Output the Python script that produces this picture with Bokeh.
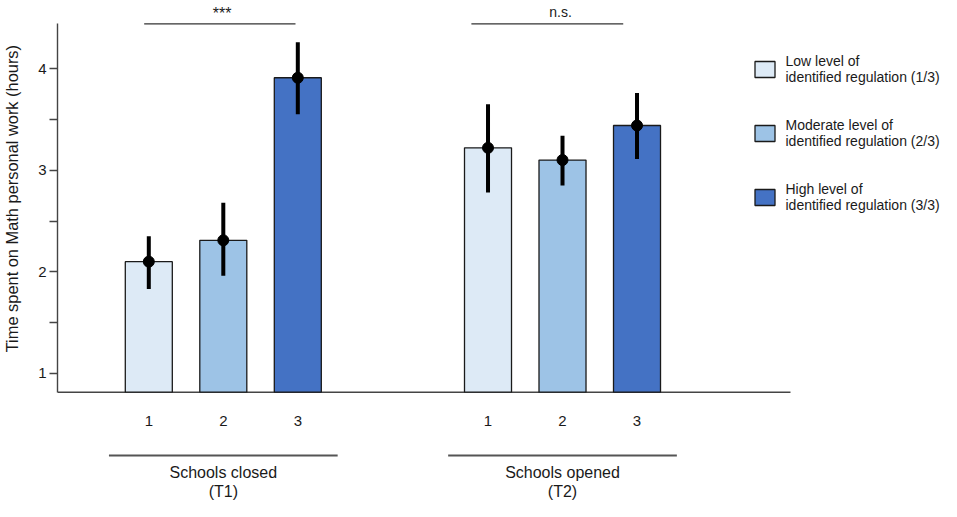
from bokeh.plotting import figure
from bokeh.models import (LinearAxis, FixedTicker, Legend, LegendItem, Range1d)
from bokeh.embed import file_html
from bokeh.resources import INLINE
from bokeh.core.properties import value

# ---------------- data ----------------
levels = ["1", "2", "3"]
legend_labels = ["Low level of\nidentified regulation (1/3)",
                 "Moderate level of\nidentified regulation (2/3)",
                 "High level of\nidentified regulation (3/3)"]
period_names = ["Schools closed", "Schools opened"]
period_codes = ["(T1)", "(T2)"]
significance = ["***", "n.s."]

means_t1 = [2.10, 2.31, 3.91]
lower_t1 = [1.83, 1.96, 3.55]
upper_t1 = [2.35, 2.68, 4.26]

means_t2 = [3.22, 3.10, 3.44]
lower_t2 = [2.78, 2.85, 3.11]
upper_t2 = [3.65, 3.34, 3.76]

y_ticks = [1, 2, 3, 4]
y_minor_ticks = [1.5, 2.5, 3.5]
y_label = "Time spent on Math personal work (hours)"

# ---------------- layout / style ----------------
colors = ["#DDEAF6", "#9DC3E6", "#4472C4"]
FONT = "Liberation Sans"
TXT = "#1a1a1a"
level_pos = [1, 2, 3]
group_offsets = [0.0, 4.553]
bar_width = 0.631
baseline = 0.815
axis_top = 4.444
base_x_end = 9.613
sig_line_x0 = [0.938, 5.330]
sig_line_x1 = [2.969, 7.368]
sig_text_x = [1.985, 6.526]
sig_text_y = [4.542, 4.562]
sig_font_size = ["16px", "14px"]
sig_line_y = 4.44
tick_label_y = 0.536
group_line_y = 0.192
group_half = 1.535
period_name_y = 0.0246
period_code_y = -0.1624
label_pad = "\u00a0" * 23   # shifts the centred axis title upward

p = figure(width=941, height=501,
           x_range=Range1d(-0.2255, 11.640), y_range=Range1d(-0.2608, 4.6703),
           x_axis_location=None, y_axis_location=None,
           toolbar_location=None, output_backend="svg",
           min_border_left=57, min_border_right=0,
           min_border_top=0, min_border_bottom=0)
p.outline_line_color = None
p.xgrid.visible = False
p.ygrid.visible = False
p.background_fill_color = "white"
p.border_fill_color = "white"

# y axis
yaxis = LinearAxis(ticker=FixedTicker(ticks=y_ticks, minor_ticks=y_minor_ticks),
                   bounds=(baseline, axis_top), axis_label=label_pad + y_label)
yaxis.axis_line_color = "#444444"
yaxis.axis_line_width = 1.4
yaxis.major_tick_line_color = "#444444"
yaxis.minor_tick_line_color = "#444444"
yaxis.major_tick_line_width = 1.4
yaxis.minor_tick_line_width = 1.4
yaxis.major_tick_out = 8
yaxis.major_tick_in = 0
yaxis.minor_tick_out = 8
yaxis.minor_tick_in = 0
yaxis.major_label_standoff = 3
yaxis.major_label_text_font = FONT
yaxis.major_label_text_font_size = "15px"
yaxis.major_label_text_color = TXT
yaxis.axis_label_text_font = FONT
yaxis.axis_label_text_font_size = "16.4px"
yaxis.axis_label_text_font_style = "normal"
yaxis.axis_label_text_color = TXT
yaxis.axis_label_standoff = 14
p.add_layout(yaxis, "left")

# baseline (x axis line)
p.segment(x0=[p.x_range.start], y0=[baseline], x1=[base_x_end], y1=[baseline],
          line_color="#444444", line_width=1.4)

# bars, one renderer per level
groups_means = [means_t1, means_t2]
groups_low = [lower_t1, lower_t2]
groups_up = [upper_t1, upper_t2]
bar_renderers = []
for i in range(3):
    xs = [level_pos[i] + off for off in group_offsets]
    tops = [gm[i] for gm in groups_means]
    r = p.vbar(x=xs, top=tops, bottom=baseline, width=bar_width,
               fill_color=colors[i], line_color="#1a1a1a", line_width=1.3)
    bar_renderers.append(r)

# error bars and points
ex, elo, eup, em = [], [], [], []
for g, off in enumerate(group_offsets):
    for i in range(3):
        ex.append(level_pos[i] + off)
        elo.append(groups_low[g][i])
        eup.append(groups_up[g][i])
        em.append(groups_means[g][i])
p.segment(x0=ex, y0=elo, x1=ex, y1=eup, line_color="black", line_width=4)
p.scatter(x=ex, y=em, size=11, fill_color="black", line_color="black")

# level tick labels below baseline
p.text(x=ex, y=[tick_label_y] * len(ex), text=levels * len(group_offsets),
       text_font=value(FONT), text_font_size=value("15px"), text_color=TXT,
       text_align="center", text_baseline="middle")

# group labels with line above
gcent = [level_pos[1] + off for off in group_offsets]
p.segment(x0=[c - group_half for c in gcent], y0=[group_line_y] * 2,
          x1=[c + group_half for c in gcent], y1=[group_line_y] * 2,
          line_color="#555555", line_width=2)
p.text(x=gcent, y=[period_name_y] * 2, text=period_names,
       text_font=value(FONT), text_font_size=value("16px"), text_color=TXT,
       text_align="center", text_baseline="middle")
p.text(x=gcent, y=[period_code_y] * 2, text=period_codes,
       text_font=value(FONT), text_font_size=value("16px"), text_color=TXT,
       text_align="center", text_baseline="middle")

# significance brackets
p.segment(x0=sig_line_x0, y0=[sig_line_y] * 2, x1=sig_line_x1, y1=[sig_line_y] * 2,
          line_color="#333333", line_width=1.4)
for k in range(len(significance)):
    p.text(x=[sig_text_x[k]], y=[sig_text_y[k]], text=[significance[k]],
           text_font=value(FONT), text_font_size=value(sig_font_size[k]),
           text_color=TXT, text_align="center", text_baseline="middle")

# legend
legend = Legend(items=[LegendItem(label=legend_labels[i], renderers=[bar_renderers[i]])
                       for i in range(3)],
                location=(694.5, 288))
legend.glyph_width = 25
legend.glyph_height = 20
legend.label_standoff = 9
legend.label_text_font = FONT
legend.label_text_font_size = "14px"
legend.label_text_color = TXT
legend.spacing = 32
legend.padding = 0
legend.margin = 0
legend.border_line_alpha = 0
legend.background_fill_alpha = 0
p.add_layout(legend)

open("out.html", "w").write(file_html(p, INLINE))
